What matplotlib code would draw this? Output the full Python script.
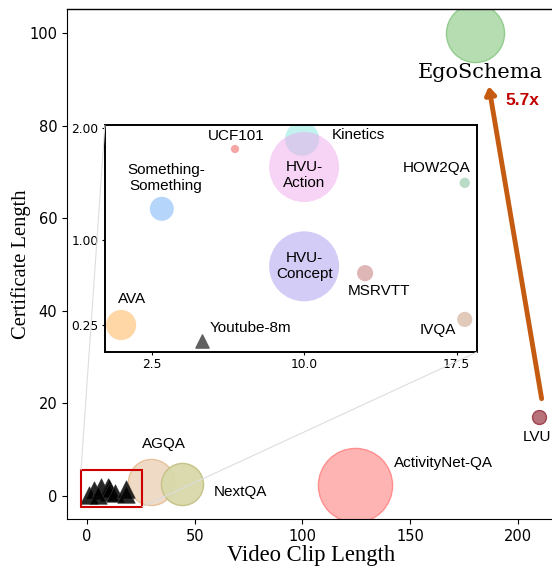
import matplotlib
matplotlib.use("Agg")
import matplotlib.pyplot as plt
from matplotlib.patches import Rectangle, ConnectionPatch

# long-video datasets shown on the main axes
main_names = ["EgoSchema", "LVU", "ActivityNet-QA", "AGQA", "NextQA"]
main_x = [180, 210, 124.5, 29.5, 44]
main_y = [100, 17, 2.4, 3.0, 2.6]
main_sizes = [1750, 100, 2850, 1100, 920]
main_face = ["#b2dbae", "#b8737a", "#ffb0b0", "#efd8c3", "#d8d8aa"]
main_edge = ["#8fcb89", "#a04450", "#ff8a8a", "#e6bf98", "#c4c184"]

# short-clip datasets shown in the zoomed inset
inset_names = ["AVA", "Something-\nSomething", "UCF101", "Kinetics", "HVU-\nAction",
               "HVU-\nConcept", "MSRVTT", "HOW2QA", "IVQA"]
inset_x = [1.0, 3.0, 6.6, 9.9, 10.0, 10.0, 13.0, 17.9, 17.9]
inset_y = [0.25, 1.28, 1.81, 1.90, 1.65, 0.77, 0.71, 1.51, 0.30]
inset_sizes = [470, 300, 35, 600, 2540, 2540, 135, 55, 120]
inset_face = ["#ffd6a6", "#b5d6fa", "#f7a4a4", "#8ee8e0", "#f0a8ec",
              "#d2ccf6", "#dfb6b6", "#b9dcc6", "#e2cabb"]
inset_alpha = [1, 1, 1, 0.55, 0.5, 1, 1, 1, 1]
yt_x, yt_y = 5.0, 0.11   # Youtube-8m

label_font = "Liberation Sans"
fs = 11

fig = plt.figure(figsize=(5.52, 5.67), dpi=100)
ax = fig.add_axes([0.1214, 0.0847, 0.884, 0.8995])

# triangles standing in for the small datasets
ax.scatter(inset_x + [yt_x], inset_y + [yt_y], marker="^", s=160, color="black",
           alpha=0.85, edgecolors="#333333", linewidths=0.5, zorder=3)

for x, y, s, fc, ec in zip(main_x, main_y, main_sizes, main_face, main_edge):
    ax.scatter(x, y, s=s, color=fc, edgecolors=ec, linewidths=1, zorder=2,
               alpha=0.95 if s > 500 else 1)

ax.set_xlim(-9.3, 217.2)
ax.set_ylim(-5, 105.2)
ax.set_xticks([0, 50, 100, 150, 200])
ax.set_yticks([0, 20, 40, 60, 80, 100])
ax.tick_params(labelsize=10.5)
for sp in ["top", "right"]:
    ax.spines[sp].set_visible(False)
ax.set_xlabel("Video Clip Length", fontsize=16.3, family="Liberation Serif", labelpad=1)
ax.set_ylabel("Certificate Length", fontsize=14.8, family="Liberation Serif", labelpad=-1)
ax.plot([-9.3, 217.2], [105.2, 105.2], color="black", lw=1, clip_on=False)

# labels on the main axes
ax.annotate("EgoSchema", (main_x[0], main_y[0]), xytext=(4, -28.5), textcoords="offset points",
            ha="center", va="center", fontsize=15, family="DejaVu Serif")
ax.annotate("LVU", (main_x[1], main_y[1]), xytext=(-2, -14), textcoords="offset points",
            ha="center", va="center", fontsize=fs, family=label_font)
ax.annotate("ActivityNet-QA", (main_x[2], main_y[2]), xytext=(28, 16), textcoords="offset points",
            ha="left", va="center", fontsize=fs, family=label_font)
ax.annotate("AGQA", (main_x[3], main_y[3]), xytext=(-6, 27), textcoords="offset points",
            ha="left", va="center", fontsize=fs, family=label_font)
ax.annotate("NextQA", (main_x[4], main_y[4]), xytext=(23, -6), textcoords="offset points",
            ha="left", va="center", fontsize=fs, family=label_font)

# arrow LVU -> EgoSchema
ax.annotate("", xy=(186.5, 88.5), xytext=(211, 21),
            arrowprops=dict(arrowstyle="-|>,head_width=0.3,head_length=0.45",
                            color="#c55a11", lw=3.5, shrinkA=0, shrinkB=0))
ax.text(194, 85.5, "5.7x", color="#c00000", fontsize=12.5, fontweight="bold",
        family=label_font, ha="left", va="center")

# red zoom box
ax.add_patch(Rectangle((-2.8, -2.4), 28.3, 8.0, fill=False, edgecolor="#cc0000",
                       lw=1.5, zorder=4))

# inset
axin = fig.add_axes([0.190, 0.379, 0.674, 0.400])
for x, y, s, fc, a in zip(inset_x, inset_y, inset_sizes, inset_face, inset_alpha):
    axin.scatter(x, y, s=s, color=fc, alpha=a, edgecolors="none", zorder=2)
axin.scatter([yt_x], [yt_y], marker="^", s=90, color="#606060", zorder=3)
axin.set_xlim(0.2, 18.5)
axin.set_ylim(0.01, 2.02)
axin.set_xticks([2.5, 10.0, 17.5])
axin.set_xticklabels(["2.5", "10.0", "17.5"])
axin.set_yticks([0.25, 1.0, 2.0])
axin.set_yticklabels(["0.25", "1.00", "2.00"])
axin.tick_params(labelsize=8.8, length=2.5, pad=2)
for sp in axin.spines.values():
    sp.set_linewidth(1.4)

def lab(i, dx, dy, ha="center"):
    axin.annotate(inset_names[i], (inset_x[i], inset_y[i]), xytext=(dx, dy),
                  textcoords="offset points", ha=ha, va="center", fontsize=fs,
                  family=label_font, linespacing=1.2)

lab(0, -2, 19, "left")
lab(1, 3, 22)
lab(2, 1, 9.5)
lab(3, 21, 3, "left")
lab(4, 0, -6)
lab(5, 0, 0)
lab(6, 10, -13)
lab(7, 4, 11, "right")
lab(8, -6, -8, "right")
axin.annotate("Youtube-8m", (yt_x, yt_y), xytext=(5, 9.5), textcoords="offset points",
              ha="left", va="center", fontsize=fs, family=label_font)

# connector lines from the red box to the inset corners
for xa, ya, xb, yb in [(-2.8, 5.6, 0, 1), (25.5, -2.4, 1, 0)]:
    con = ConnectionPatch(xyA=(xa, ya), coordsA=ax.transData, xyB=(xb, yb),
                          coordsB=axin.transAxes, color="#dddddd", lw=0.8)
    fig.add_artist(con)

plt.savefig("out.png", dpi=100)
